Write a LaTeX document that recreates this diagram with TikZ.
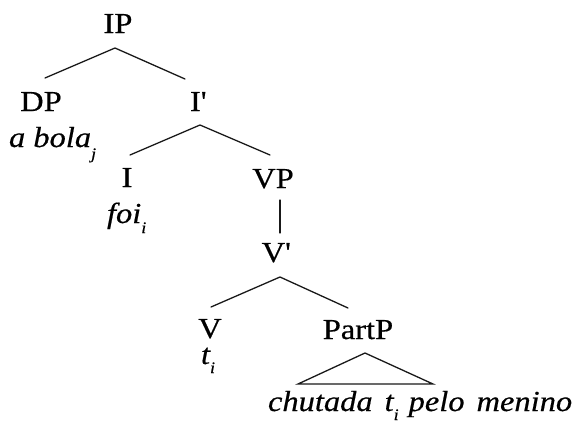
\documentclass[tikz,border=0pt]{standalone}
\usepackage{fontspec}
\setmainfont[FakeStretch=1.12,FakeBold=0.5]{Liberation Serif}
\newcommand\lowsub[2]{\raisebox{#1}{\fontsize{16}{16}\selectfont #2}}
\begin{document}
\begin{tikzpicture}[x=1pt,y=-1pt,
  every node/.style={inner sep=0pt, outer sep=0pt},
  cat/.style={anchor=base, font=\fontsize{29}{32}\selectfont},
  word/.style={anchor=base, font=\fontsize{29}{32}\selectfont\itshape},
  edge/.style={line width=1.3pt, draw=black!90, line cap=round}]
\useasboundingbox (0,0) rectangle (574,426);
% categories
\node[cat] (IP) at (118,33) {IP};
\node[cat] (DP) at (41,111) {DP};
\node[cat] (Ib) at (198,111) {I\textquotesingle};
\node[cat] (I) at (127,187) {I};
\node[cat] (VP) at (273,188) {VP};
\node[cat] (Vb) at (276,262) {V\textquotesingle};
\node[cat, text depth=0pt] (V) at (210,338) {V};
\node[cat] (PartP) at (358,339) {PartP};
% words
\node[word, anchor=base west] (abola) at (9,147) {a bola\lowsub{-12pt}{j}};
\node[word, anchor=base west] (foi) at (107,223) {foi\lowsub{-10pt}{i}};
\node[word, anchor=base west, text height=14pt] (ti) at (201,364) {t\lowsub{-9pt}{i}};
\node[word, anchor=base west] (chut) at (268,411) {chutada\hspace{12pt}t\lowsub{-9pt}{i}\hspace{10pt}pelo\hspace{12pt}menino};
% connector end points
\coordinate (IPs) at (115,48);
\coordinate (DPn) at (45,78);
\coordinate (Ibn) at (185,79);
\coordinate (Ibs) at (200,125);
\coordinate (In) at (130,155);
\coordinate (VPn) at (270,155);
\coordinate (VPs) at (280,200);
\coordinate (Vbn) at (280,233);
\coordinate (Vbs) at (280,277);
\coordinate (Vn) at (211,307);
\coordinate (PartPn) at (348,308);
\coordinate (TrA) at (365,353);
\coordinate (TrL) at (298,384);
\coordinate (TrR) at (433,384);
% connectors
\draw[edge] (DPn) -- (IPs) -- (Ibn);
\draw[edge] (In) -- (Ibs) -- (VPn);
\draw[edge] (VPs) -- (Vbn);
\draw[edge] (Vn) -- (Vbs) -- (PartPn);
\draw[edge, line join=miter] (TrA) -- (TrL) -- (TrR) -- cycle;
\end{tikzpicture}
\end{document}
